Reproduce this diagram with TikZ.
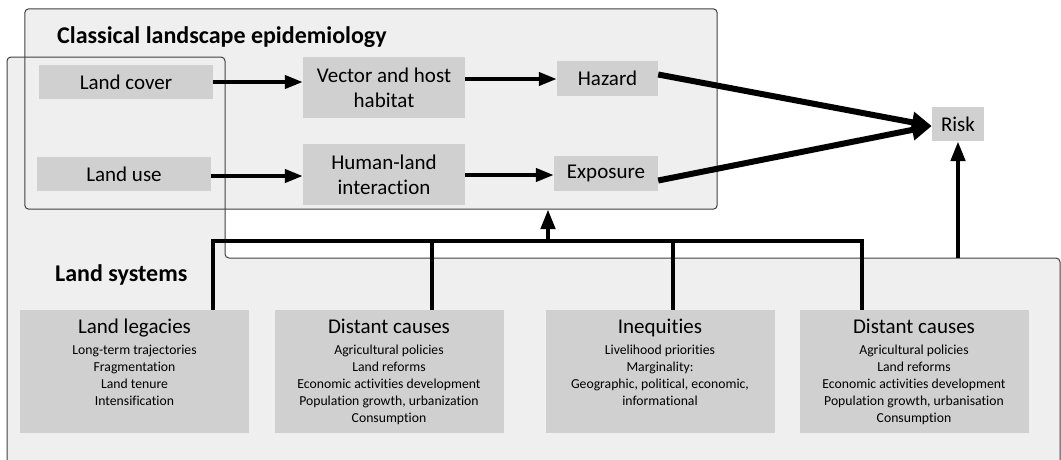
\documentclass[tikz,border=0pt]{standalone}
\usepackage{fontspec}
\setmainfont{Carlito}[Ligatures=NoCommon]
\usetikzlibrary{arrows.meta,calc}
\definecolor{bgfill}{HTML}{EFEFEF}
\definecolor{boxfill}{HTML}{D0D0D0}
\definecolor{edgec}{HTML}{404040}
\newcommand{\lowbox}[2]{\begin{minipage}[c][123pt][t]{229pt}\centering\vspace*{9pt}{\fontsize{21}{22}\selectfont #1\par}\vspace{4pt}{\fontsize{13.7}{17}\selectfont #2\par}\end{minipage}}
\begin{document}
\begin{tikzpicture}[x=1pt,y=-1pt,
  gbox/.style={fill=boxfill, inner sep=0pt, align=center, font=\fontsize{21}{25}\selectfont},
  bbox/.style={fill=boxfill, inner sep=0pt},
  thinarr/.style={line width=4pt, -{Triangle[length=18pt,width=13pt]}},
  bigarr/.style={line width=6pt, -{Triangle[length=20pt,width=20pt]}},
  busline/.style={line width=4.7pt},
  uparr/.style={line width=4.7pt, -{Triangle[length=20pt,width=14pt]}},
  frame/.style={draw=edgec, line width=1pt, rounded corners=4pt},
  title/.style={font=\fontsize{24}{26}\selectfont\bfseries, anchor=west, inner sep=0pt},
]
\useasboundingbox (0,0) rectangle (1061,459);
\clip (0,0) rectangle (1061,459);
% classical landscape epidemiology frame
\node[fill=bgfill, rounded corners=4pt, inner sep=0pt, minimum width=692pt, minimum height=200pt] (cle) at (371,109) {};
% land systems region fill
\fill[bgfill, rounded corners=4pt] (7,480) -- (7,57) -- (225,57) -- (225,258) -- (1060,258) -- (1060,480) -- cycle;
% outlines
\draw[frame] (cle.north west) rectangle (cle.south east);
\draw[frame] (7,480) -- (7,57) -- (225,57) -- (225,258) -- (1060,258) -- (1060,480);

\node[title] (t1) at (57,37) {Classical landscape epidemiology};
\node[title] (t2) at (55,275) {Land systems};

% upper nodes
\node[gbox, minimum width=174pt, minimum height=34pt] (lc) at (126,82) {Land cover};
\node[gbox, minimum width=174pt, minimum height=34pt] (lu) at (124,174) {Land use};
\node[gbox, minimum width=162pt, minimum height=61pt] (vh) at (384,87.5) {Vector and host\\habitat};
\node[gbox, minimum width=162pt, minimum height=61pt] (hl) at (384,174.5) {Human-land\\interaction};
\node[gbox, minimum width=101pt, minimum height=35pt] (hz) at (607.5,78.5) {Hazard};
\node[gbox, minimum width=104pt, minimum height=35pt] (ex) at (606,173.5) {Exposure};
\node[gbox, minimum width=52pt, minimum height=34pt] (rk) at (958,124) {Risk};

% lower nodes
\node[bbox] (ll) at (134.5,371.5) {\lowbox{Land legacies}{Long-term trajectories\\Fragmentation\\Land tenure\\Intensification}};
\node[bbox] (dc1) at (389,371.5) {\lowbox{Distant causes}{Agricultural policies\\Land reforms\\Economic activities development\\Population growth, urbanization\\Consumption}};
\node[bbox] (iq) at (660,371.5) {\lowbox{Inequities}{Livelihood priorities\\Marginality:\\Geographic, political, economic,\\informational}};
\node[bbox] (dc2) at (914,371.5) {\lowbox{Distant causes}{Agricultural policies\\Land reforms\\Economic activities development\\Population growth, urbanisation\\Consumption}};

% arrows within classical frame
\draw[thinarr] (lc.east |- 0,82) -- (vh.west |- 0,82);
\draw[thinarr] (lu.east |- 0,176) -- (hl.west |- 0,176);
\draw[thinarr] (vh.east |- 0,79) -- (hz.west |- 0,79);
\draw[thinarr] (hl.east |- 0,175) -- (ex.west |- 0,175);
\draw[bigarr] ($(hz.east)+(0,-4)$) -- ($(rk.west)+(0,2)$);
\draw[bigarr] ($(ex.east)+(0,7)$) -- ($(rk.west)+(0,2)$);

% bus from land systems
\coordinate (bl) at (213,241);
\coordinate (br) at (862,241);
\coordinate (bup) at (548,241);
\draw[busline] (ll.north -| bl) -- (bl) -- (br) -- (dc2.north -| br);
\draw[busline] (dc1.north -| 432,0) -- (432,241);
\draw[busline] (iq.north -| 673,0) -- (673,241);
\draw[uparr] (bup) -- (cle.south -| bup);
\coordinate (rkb) at (958,258);
\draw[uparr] (rkb) -- (rk.south);
\end{tikzpicture}
\end{document}
